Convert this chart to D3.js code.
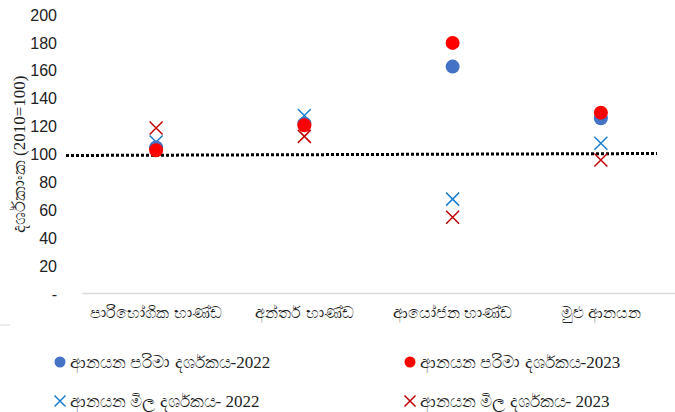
<!DOCTYPE html>
<html>
<head>
<meta charset="utf-8">
<script src="https://cdn.jsdelivr.net/npm/d3@7"></script>
<style>
  body { margin: 0; background: #fff; }
  svg { display: block; }
  .serif { font-family: 'Liberation Serif', 'Times New Roman', 'DejaVu Serif', serif; }
</style>
</head>
<body>
<svg id="canvas"></svg>
<script>
let width = 675,
height = 412

let categories = ['පාරිභෝගික භාණ්ඩ', 'අන්තර් භාණ්ඩ', 'ආයෝජන භාණ්ඩ', 'මුළු ආනයන']
let volume2022 = [105, 122, 163, 126]
let volume2023 = [103, 121, 180, 130]
let price2022 = [109, 128, 68, 108]
let price2023 = [119, 113, 55, 96]
let yTicks = [0, 20, 40, 60, 80, 100, 120, 140, 160, 180, 200]
let baseLine = 100

let seriesLabels = ['ආනයන පරිමා දර්ශකය', 'ආනයන පරිමා දර්ශකය', 'ආනයන මිල දර්ශකය', 'ආනයන මිල දර්ශකය']
let seriesYears = ['-2022', '-2023', '- 2022', '- 2023']

let canvas = d3.select('#canvas')
.attr('width', width)
.attr('height', height)

let x = d3.scaleBand().domain(categories).range([82, 675])
let y = d3.scaleLinear().domain([0, 200]).range([294, 15])

// y axis labels
canvas.append('g')
.attr('transform', 'translate(60,0)')
.call(d3.axisLeft(y).tickValues(yTicks).tickSize(0).tickFormat(d => d === 0 ? '-' : d))
.call(g => g.select('.domain').remove())
.selectAll('text')
.attr('font-family', 'Liberation Sans, Arial, sans-serif')
.attr('font-size', 16)
.attr('fill', '#222')

// x axis
canvas.append('g')
.attr('transform', 'translate(0,293)')
.call(d3.axisBottom(x).tickSize(0).tickPadding(14))
.call(g => g.select('.domain').attr('stroke', '#d9d9d9').attr('stroke-width', 1.5))
.selectAll('text')
.attr('font-size', 16)
.attr('fill', '#222')

// stray rule at left
canvas.append('line')
.attr('x1', 0).attr('x2', 10).attr('y1', 325).attr('y2', 325)
.attr('stroke', '#d9d9d9')

// dotted line at 100
canvas.append('line')
.attr('x1', 66).attr('x2', 657)
.attr('y1', y(baseLine) + 1).attr('y2', y(baseLine) - 1)
.attr('stroke', '#000')
.attr('stroke-width', 3)
.attr('stroke-dasharray', '3,2')

// y title
let title = canvas.append('text')
.attr('transform', `translate(25,${y(100)}) rotate(-90)`)
.attr('text-anchor', 'middle')
.attr('fill', '#222')
title.append('tspan').attr('font-size', 18).text('දර්ශකාංක ')
title.append('tspan').attr('class', 'serif').attr('font-size', 17).text('(2010=100)')

let cx = (i) => x(categories[i]) + x.bandwidth() / 2

let drawCross = (g, color, size) => {
    g.append('path')
    .attr('d', `M${-size},${-size}L${size},${size}M${-size},${size}L${size},${-size}`)
    .attr('stroke', color)
    .attr('stroke-width', 1.5)
    .attr('fill', 'none')
}

// marks
canvas.selectAll('.px22')
.data(price2022)
.join('g')
.attr('class', 'px22')
.attr('transform', (d, i) => `translate(${cx(i)},${y(d)})`)
.each(function () { drawCross(d3.select(this), '#1a7fd0', 6.5) })

canvas.selectAll('.px23')
.data(price2023)
.join('g')
.attr('class', 'px23')
.attr('transform', (d, i) => `translate(${cx(i)},${y(d)})`)
.each(function () { drawCross(d3.select(this), '#c00000', 6.5) })

canvas.selectAll('.vol22')
.data(volume2022)
.join('circle')
.attr('class', 'vol22')
.attr('cx', (d, i) => cx(i))
.attr('cy', (d) => y(d))
.attr('r', 7)
.attr('fill', '#4472c4')

canvas.selectAll('.vol23')
.data(volume2023)
.join('circle')
.attr('class', 'vol23')
.attr('cx', (d, i) => cx(i))
.attr('cy', (d) => y(d))
.attr('r', 7)
.attr('fill', '#ff0000')

// legend
let legendPos = [[60, 362], [410, 362], [60, 401], [410, 401]]
let legendColors = ['#4472c4', '#ff0000', '#1a7fd0', '#c00000']

seriesLabels.forEach((name, i) => {
    let g = canvas.append('g').attr('transform', `translate(${legendPos[i][0]},${legendPos[i][1]})`)
    if (i < 2) {
        g.append('circle').attr('r', 5.5).attr('fill', legendColors[i])
    } else {
        drawCross(g, legendColors[i], 5.5)
    }
    let t = g.append('text')
    .attr('x', 10)
    .attr('dy', '0.35em')
    .attr('fill', '#222')
    t.append('tspan').attr('font-size', 17).text(name)
    t.append('tspan').attr('class', 'serif').attr('font-size', 17).text(seriesYears[i])
})
</script>
</body>
</html>
